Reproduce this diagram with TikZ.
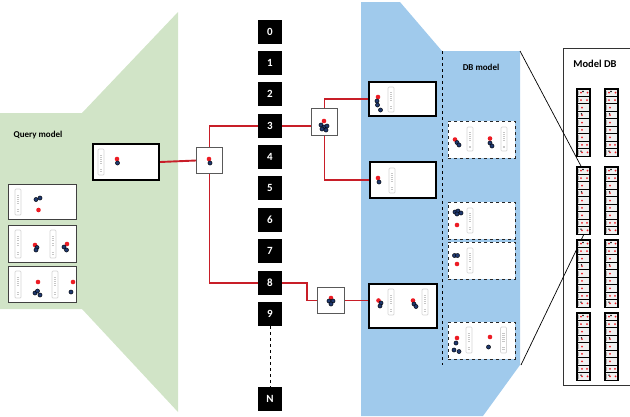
\documentclass[tikz,border=0pt]{standalone}
\usepackage{fontspec}
\setmainfont{Carlito}
\definecolor{qgreen}{RGB}{209,228,199}
\definecolor{dbblue}{RGB}{160,202,236}
\definecolor{lred}{RGB}{200,30,40}
\definecolor{dred}{RGB}{236,28,36}
\definecolor{dnavy}{RGB}{31,56,110}
\newcommand\qrdot[2]{\fill[dred] (#1,#2) circle (2.3);}
\newcommand\qbdot[2]{\filldraw[fill=dnavy,draw=black,line width=0.4] (#1,#2) circle (2.1);}
\newcommand\qladd[3]{\begin{scope}[shift={(#1,#2)}]
 \draw[black!16, line width=0.7, rounded corners=1] (0,0) rectangle (6,#3);
 \foreach \t in {0.22,0.3,0.38,0.46,0.54,0.78,0.86}{\draw[black!22, line width=0.4] (1.8,\t*#3) -- (4.2,\t*#3);}
\end{scope}}
\tikzset{
 numbox/.style={fill=black, text=white, font=\bfseries\fontsize{11}{13}\selectfont, minimum width=24, minimum height=24, inner sep=0},
 resbox/.style={draw=black, line width=2.4, fill=white, inner sep=0},
 exbox/.style={draw=black!75, line width=0.9, fill=white, inner sep=0},
 smallbox/.style={draw=black!65, line width=1, fill=white, inner sep=0},
 dbbox/.style={draw=black!85, dashed, line width=0.8, fill=white, inner sep=0},
 redline/.style={draw=lred, line width=1.9},
 label/.style={font=\bfseries\fontsize{9}{11}\selectfont, inner sep=0},
}
\begin{document}
\begin{tikzpicture}[x=1pt,y=-1pt]
\useasboundingbox (0,0) rectangle (630,416);
\clip (0,0) rectangle (630,416);
% background regions
\fill[qgreen] (0,113) -- (82,113) -- (178,12) -- (178,412) -- (82,309) -- (0,309) -- cycle;
\fill[dbblue] (361,2) -- (400,2) -- (442,51) -- (520,51) -- (520,365) -- (483,416) -- (361,416) -- cycle;
\draw[black, line width=0.6, dashed] (442,51) -- (442,365);
% model DB frame
\draw[black!80, line width=0.9] (640,48) -- (563,48) -- (563,385) -- (640,385);
\node[label, font=\bfseries\fontsize{10.5}{12}\selectfont] (mdb) at (595,64) {Model DB};
\node[label] (qm) at (38,135) {Query model};
\node[label] (dbm) at (481,67) {DB model};
% number column
\foreach \n/\y in {0/32,1/63,2/94,3/126,4/157,5/188,6/220,7/251,8/283,9/314,N/399}{
 \node[numbox] (n\n) at (270,\y) {\n};
}
\draw[black, line width=0.6, dashed] (n9.south) -- (nN.north);
% query side
\node[resbox, minimum width=66, minimum height=36] (q) at (126,162) {};
\node[exbox, minimum width=68, minimum height=35] (ea) at (42.5,202) {};
\node[exbox, minimum width=68, minimum height=37] (eb) at (42.5,244) {};
\node[exbox, minimum width=68, minimum height=36] (ec) at (42.5,284.5) {};
\node[smallbox, minimum width=26, minimum height=26] (s1) at (209.5,160.5) {};
\node[smallbox, minimum width=26, minimum height=27] (s2) at (324.5,122) {};
\node[smallbox, minimum width=27, minimum height=26] (s3) at (331,300.5) {};
\node[resbox, minimum width=67, minimum height=34] (r1) at (402.5,99) {};
\node[resbox, minimum width=66, minimum height=36] (r2) at (403,180) {};
\node[resbox, minimum width=68, minimum height=44] (r3) at (403,306) {};
\node[dbbox, minimum width=67, minimum height=37] (d1) at (481.5,139.5) {};
\node[dbbox, minimum width=67, minimum height=37] (d2) at (481.5,220.5) {};
\node[dbbox, minimum width=67, minimum height=37] (d3) at (481.5,260.5) {};
\node[dbbox, minimum width=67, minimum height=37] (d4) at (481.5,340.5) {};
% red connectors
\draw[redline] (q.east) -- (s1.west);
\draw[redline] (s1.north) |- (n3.west);
\draw[redline] (s1.south) |- (n8.west);
\draw[redline] (n3.east) -- (n3.east -| s2.west);
\draw[redline] (s2.north) |- (r1.west);
\draw[redline] (s2.south) |- (r2.west);
\draw[redline] (n8.east) -- ++(25,0) |- (s3.west);
\draw[redline] (s3.east) -- (s3.east -| r3.west);
% black zoom lines
\coordinate (zt) at (582,168);
\coordinate (zb) at (585,232);
\draw[black, line width=0.7] (520,51) -- (zt);
\draw[black, line width=0.7] (521,365) -- (zb);
% contents: query box
\qladd{98}{149}{26}
\qrdot{117}{159}\qbdot{117.5}{163}
% example a
\qladd{15}{189}{26}
\qbdot{36}{199.5}\qbdot{40}{198}\qrdot{38.5}{210}
% example b
\qladd{15}{230}{28}\qladd{50}{230}{28}
\qrdot{35}{245}\qbdot{37}{247.5}\qbdot{36}{250}
\qrdot{67}{244}\qbdot{64}{247}\qbdot{66.5}{250}
% example c
\qladd{15}{271}{27}\qladd{52}{271}{27}
\qrdot{38}{282}\qbdot{35}{293}\qbdot{37.5}{291}\qbdot{40}{295}
\qrdot{73}{282}\qbdot{71}{292}
% small boxes
\qrdot{209}{159}\qbdot{210}{163}
\qrdot{324}{121}\qbdot{321}{125}\qbdot{324}{127}\qbdot{327}{126}\qbdot{322}{129}\qbdot{326}{130}
\qrdot{331}{298}\qbdot{329}{301}\qbdot{333}{301}\qbdot{331}{304}
% result boxes
\qladd{388}{87}{25}
\qrdot{378}{97}\qbdot{377}{101}\qbdot{377.5}{105}\qbdot{380.5}{110}
\qladd{389}{168}{25}
\qrdot{378}{178}\qbdot{379}{182}
\qladd{388}{289}{26}\qladd{422}{289}{26}
\qrdot{378.5}{300.5}\qbdot{381}{303}\qbdot{380}{306}
\qrdot{413}{300.5}\qbdot{414}{304}\qbdot{416}{306.5}
% DB boxes
\qladd{467}{127}{24}\qladd{501}{127}{24}
\qrdot{455}{139.5}\qbdot{457}{142.5}\qbdot{459}{145}
\qrdot{490}{138.5}\qbdot{490}{143}\qbdot{492}{146}
\qladd{467}{208}{25}
\qbdot{455}{212}\qbdot{458}{211}\qbdot{461}{213}\qbdot{457}{214}
\qrdot{457}{225}
\qladd{467}{248}{25}
\qbdot{454.5}{255.5}\qbdot{457.5}{255.5}\qrdot{457}{264}
\qladd{466}{327}{26}\qladd{500.5}{327}{26}
\qrdot{457}{338}\qbdot{456}{343}\qbdot{454}{350}\qbdot{459}{351.5}
\qrdot{490}{337}\qbdot{488.5}{347}
% model DB columns
\foreach \bx in {577,605}{
 \foreach \by in {89,167,240,313}{
  \foreach \i in {0,...,8}{
   \draw[black, line width=1.1, fill=black!6] (\bx,\by+\i*7.45) rectangle ++(13,7.45);
   \draw[black!30, line width=0.4] (\bx+1.5,\by+\i*7.45+1.5) -- ++(0,4.4);
  }
  \foreach \i/\a in {0/4,0/10.5,1/4,1/10,2/5,3/5,4/5,5/5,6/5,7/5,7/10,8/5,8/10.5}{
   \fill[dred] (\bx+\a,\by+\i*7.45+3.7) circle (1);
  }
  \foreach \i/\a in {0/6,3/4.5,8/4}{
   \fill[black] (\bx+\a,\by+\i*7.45+2.5) circle (0.8);
  }
 }
}
\end{tikzpicture}
\end{document}
